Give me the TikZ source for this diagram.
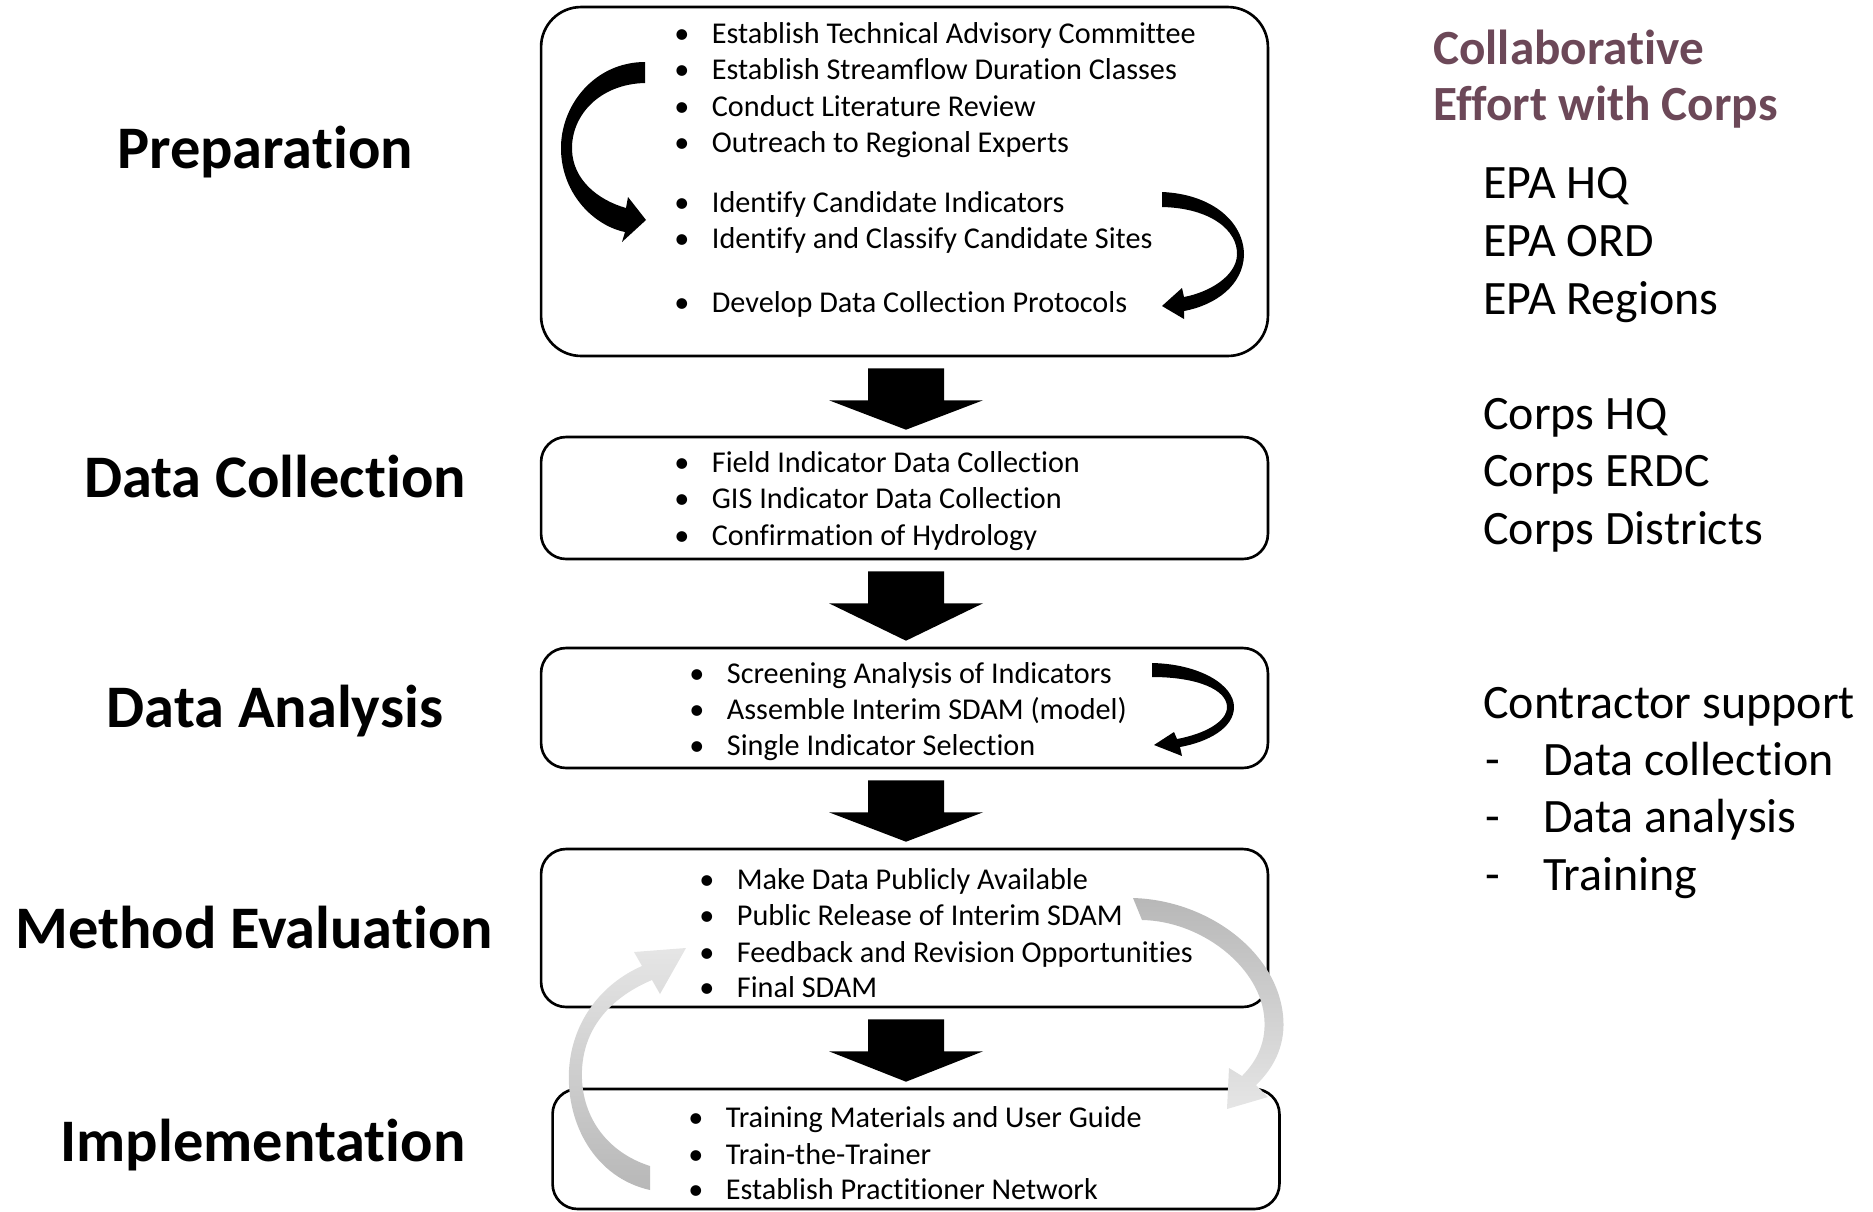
\documentclass[tikz,border=0pt]{standalone}
\usepackage{fontspec}
\setmainfont{Carlito}[Ligatures=NoCommon]
\usetikzlibrary{calc}
\definecolor{corpsplum}{RGB}{108,72,88}

% fat black arrow from one stage box down to the next
\newcommand{\blockarrow}[2]{%
  \coordinate (t) at ($(#1.south)+(1.5,11)$);
  \coordinate (p0) at (t |- #2.north);
  \coordinate (p) at ($(p0)+(0,-6)$);
  \fill ($(t)+(-38,0)$) -- ($(t)+(-38,32)$) -- ($(t)+(-77,32)$) -- (p)
    -- ($(t)+(77,32)$) -- ($(t)+(38,32)$) -- ($(t)+(38,0)$) -- cycle;}

\begin{document}
\begin{tikzpicture}[x=0.02cm,y=-0.02cm,
	stage/.style={draw,line width=1.5pt,minimum width=14.54cm,inner sep=0pt},
	item/.style={anchor=base west,inner sep=0pt,yshift=-0.05cm,font=\fontsize{17.2}{20}\selectfont,
		execute at begin node={\textbullet\hspace{0.45cm}}},
	phase/.style={anchor=base,inner sep=0pt,font=\fontsize{34.4}{40}\selectfont\bfseries},
	side/.style={anchor=base west,inner sep=0pt,font=\fontsize{27.3}{32}\selectfont}]
	\useasboundingbox (0,0) rectangle (1873,1211);

	% phase names
	\node[phase] (lprep) at (265,168) {Preparation};
	\node[phase] (lcoll) at (275,497) {Data Collection};
	\node[phase] (lanal) at (275,727) {Data Analysis};
	\node[phase] (leval) at (254,948) {Method Evaluation};
	\node[phase] (limpl) at (263,1161) {Implementation};

	% stage boxes
	\node[stage,rounded corners=0.8cm,minimum height=6.98cm] (prep) at (904.5,181.5) {};
	\node[stage,rounded corners=0.5cm,minimum height=2.44cm] (coll) at (904.5,498) {};
	\node[stage,rounded corners=0.5cm,minimum height=2.4cm] (anal) at (904.5,708) {};
	\node[stage,rounded corners=0.5cm,minimum height=3.16cm] (eval) at (904.5,928) {};
	\node[stage,rounded corners=0.5cm,minimum height=2.4cm] (impl) at (916,1149) {};

	\foreach \y/\t [count=\n] in {41/Establish Technical Advisory Committee,
		77/Establish Streamflow Duration Classes, 114/Conduct Literature Review,
		150/Outreach to Regional Experts, 210/Identify Candidate Indicators,
		246/Identify and Classify Candidate Sites, 310/Develop Data Collection Protocols}
	\node[item] (prep-\n) at (674,\y) {\t};
	\foreach \y/\t [count=\n] in {470/Field Indicator Data Collection,
		506/GIS Indicator Data Collection, 543/Confirmation of Hydrology}
	\node[item] (coll-\n) at (674,\y) {\t};
	\foreach \y/\t [count=\n] in {681/Screening Analysis of Indicators,
		717/Assemble Interim SDAM (model), 753/Single Indicator Selection}
	\node[item] (anal-\n) at (689,\y) {\t};
	\foreach \y/\t [count=\n] in {887/Make Data Publicly Available,
		923/Public Release of Interim SDAM, 960/Feedback and Revision Opportunities,
		995/Final SDAM}
	\node[item] (eval-\n) at (699,\y) {\t};
	\foreach \y/\t [count=\n] in {1125/Training Materials and User Guide,
		1162/Train-the-Trainer, 1197/Establish Practitioner Network}
	\node[item] (impl-\n) at (688,\y) {\t};

	\blockarrow{prep}{coll}
	\blockarrow{coll}{anal}
	\blockarrow{anal}{eval}
	\blockarrow{eval}{impl}

	% curved arrows inside the boxes
	\fill (645,62) .. controls (595,62) and (560,105) .. (561,150)
		.. controls (562,195) and (595,226) .. (625,232) -- (622,242) -- (646,220) -- (628,197)
		-- (626,208) .. controls (598,200) and (573,180) .. (572,150)
		.. controls (571,115) and (600,84) .. (645,83) -- cycle;
	\fill (1162,192) .. controls (1212,194) and (1244,222) .. (1244,255)
		.. controls (1243,285) and (1216,305) .. (1184,311) -- (1184,319) -- (1162,306) -- (1182,288)
		-- (1184,297) .. controls (1210,292) and (1236,276) .. (1237,255)
		.. controls (1238,230) and (1210,208) .. (1162,207) -- cycle;
	\fill (1152,663) .. controls (1200,664) and (1234,685) .. (1234,707)
		.. controls (1234,728) and (1208,742) .. (1180,747) -- (1182,756) -- (1154,745) -- (1174,732)
		-- (1177,739) .. controls (1204,734) and (1227,722) .. (1227,707)
		.. controls (1227,690) and (1198,677) .. (1152,677) -- cycle;

	% grey feedback loop
	\shade[top color=black!10,bottom color=black!28] (650,1166) -- (650,1190)
		.. controls (596,1178) and (566,1125) .. (569,1070)
		.. controls (572,1020) and (603,983) .. (642,966) -- (634,952) -- (686,948) -- (660,994)
		-- (652,980) .. controls (614,996) and (584,1025) .. (582,1070)
		.. controls (580,1115) and (606,1152) .. (650,1166);
	\shade[top color=black!28,bottom color=black!10] (1133,898)
		.. controls (1206,900) and (1276,950) .. (1283,1015)
		.. controls (1286,1042) and (1276,1066) .. (1256,1085) -- (1268,1097) -- (1227,1109) -- (1229,1068)
		-- (1242,1076) .. controls (1258,1060) and (1267,1040) .. (1264,1015)
		.. controls (1258,965) and (1200,921) .. (1142,920) -- cycle;

	% partners
	\node[side,font=\fontsize{28}{32}\selectfont\bfseries,text=corpsplum] (collab1) at (1433,64) {Collaborative};
	\node[side,font=\fontsize{28}{32}\selectfont\bfseries,text=corpsplum] (collab2) at (1433,120) {Effort with Corps};
	\foreach \y/\t [count=\n] in {198/EPA HQ, 256/EPA ORD, 314/EPA Regions,
		429/Corps HQ, 486/Corps ERDC, 544/Corps Districts}
	\node[side] (org-\n) at (1483,\y) {\t};
	\node[side] (contr) at (1483,718) {Contractor support};
	\foreach \y/\t [count=\n] in {775/Data collection, 832/Data analysis, 890/Training}
	\node[side] (task-\n) at (1485,\y) {\makebox[1.16cm][l]{-}\t};
\end{tikzpicture}
\end{document}
